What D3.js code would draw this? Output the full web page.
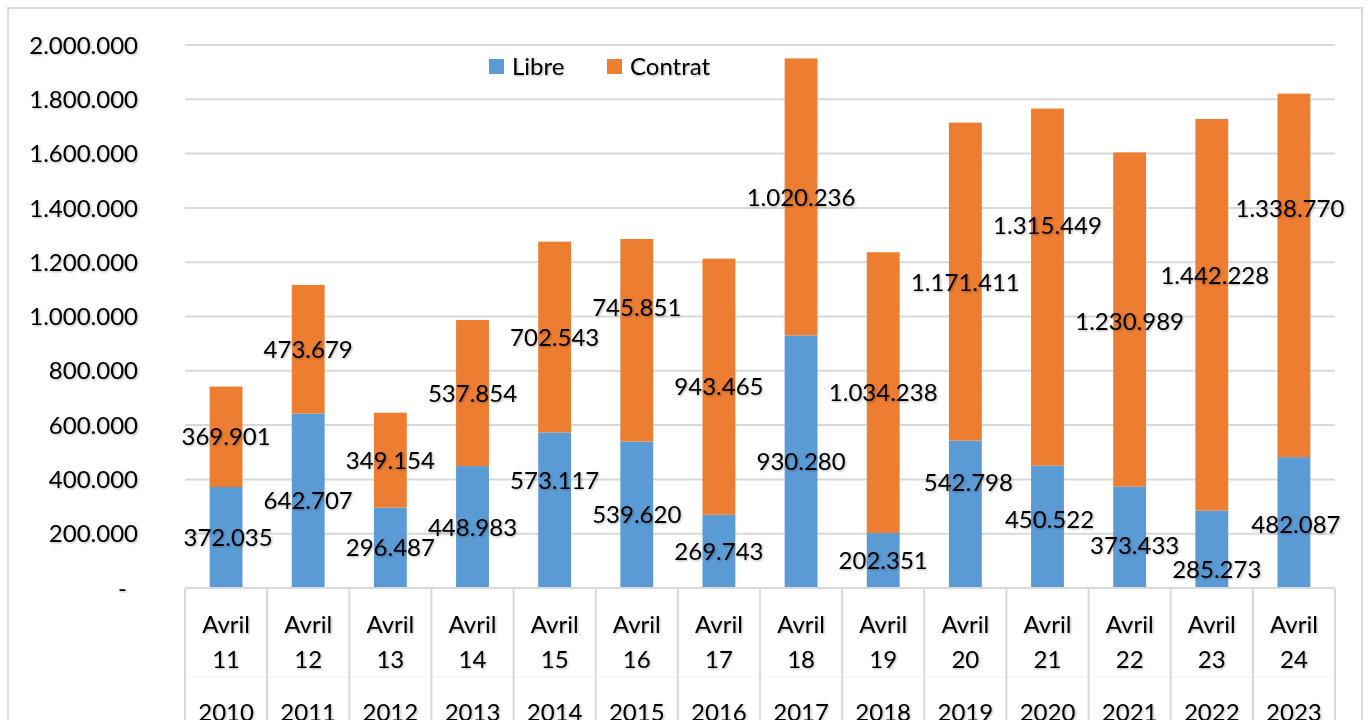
<!DOCTYPE html>
<html>
<head>
<meta charset="utf-8">
<script src="https://cdn.jsdelivr.net/npm/d3@7"></script>
<style>
  html, body { margin: 0; padding: 0; background: #fff; }
  svg { display: block; font-family: Lato, "Open Sans", sans-serif; }
</style>
</head>
<body>
<svg id="chart" width="1370" height="720"></svg>
<script>
const months = ["Avril", "Avril", "Avril", "Avril", "Avril", "Avril", "Avril", "Avril", "Avril", "Avril", "Avril", "Avril", "Avril", "Avril"];
const days = ["11", "12", "13", "14", "15", "16", "17", "18", "19", "20", "21", "22", "23", "24"];
const years = ["2010", "2011", "2012", "2013", "2014", "2015", "2016", "2017", "2018", "2019", "2020", "2021", "2022", "2023"];
const libre = [372035, 642707, 296487, 448983, 573117, 539620, 269743, 930280, 202351, 542798, 450522, 373433, 285273, 482087];
const contrat = [369901, 473679, 349154, 537854, 702543, 745851, 943465, 1020236, 1034238, 1171411, 1315449, 1230989, 1442228, 1338770];
const yTicks = [0, 200000, 400000, 600000, 800000, 1000000, 1200000, 1400000, 1600000, 1800000, 2000000];
const seriesNames = ["Libre", "Contrat"];
const seriesColors = ["#5b9bd5", "#ed7d31"];

// manual data-label nudges (pixels), as placed in the original chart
const labelNudgeY = {
  Libre:   [0, 0, 0, 0, -30, 0, 0, 0, 0, -32, -7, 8, 20, 2],
  Contrat: [0, 0, 0, 0, 0, -33, 0, 0, 0, 1, -62, 2, -39, -67]
};
const labelNudgeX = {
  Libre:   [2, 0, 0, 0, 0, 0, 0, 0, 0, 3, 2, 5, 5, 2],
  Contrat: [0, 0, 0, 0, 0, 0, 0, 0, 0, 0, 0, 0, 3, -4]
};

const svg = d3.select("#chart");
const defs = svg.append("defs");
const f = defs.append("filter").attr("id", "shadow").attr("x", "-10%").attr("y", "-20%").attr("width", "130%").attr("height", "150%");
f.append("feDropShadow").attr("dx", 1).attr("dy", 1).attr("stdDeviation", 0.8).attr("flood-color", "#000").attr("flood-opacity", 0.3);

// outer border
svg.append("rect").attr("x", 8).attr("y", 8).attr("width", 1354).attr("height", 730)
  .attr("fill", "none").attr("stroke", "#d9d9d9").attr("stroke-width", 2);

const pLeft = 185, pRight = 1335, pTop = 45, pBottom = 588;
const x = d3.scaleBand().domain(years).range([pLeft, pRight]).padding(0);
const y = d3.scaleLinear().domain([0, 2000000]).range([pBottom, pTop]);
const fmt = v => d3.format(",")(v).replace(/,/g, ".");

// gridlines
svg.append("g").selectAll("line").data(yTicks.filter(t => t > 0)).join("line")
  .attr("x1", pLeft).attr("x2", pRight).attr("y1", d => y(d)).attr("y2", d => y(d))
  .attr("stroke", "#d9d9d9").attr("stroke-width", 2);

// y tick labels
svg.append("g").attr("filter", "url(#shadow)").selectAll("text").data(yTicks).join("text")
  .attr("x", d => d === 0 ? 127 : 138).attr("y", d => y(d)).attr("dy", "0.36em")
  .attr("text-anchor", "end").attr("font-size", 24).attr("fill", "#000")
  .text(d => d === 0 ? "-" : fmt(d));

// stacked bars
const data = years.map((yr, i) => ({ key: yr, Libre: libre[i], Contrat: contrat[i] }));
const stack = d3.stack().keys(seriesNames)(data);
const bw = x.bandwidth() * 0.4;
const bars = svg.append("g");
stack.forEach((s, si) => {
  bars.append("g").selectAll("rect").data(s).join("rect")
    .attr("x", d => x(d.data.key) + (x.bandwidth() - bw) / 2)
    .attr("width", bw)
    .attr("y", d => y(d[1]))
    .attr("height", d => y(d[0]) - y(d[1]))
    .attr("fill", seriesColors[si]);
});

// category axis (table-like)
const axis = svg.append("g");
axis.append("line").attr("x1", pLeft).attr("x2", pRight).attr("y1", pBottom).attr("y2", pBottom)
  .attr("stroke", "#d9d9d9").attr("stroke-width", 2);
axis.append("line").attr("x1", pLeft).attr("x2", pRight).attr("y1", 677).attr("y2", 677)
  .attr("stroke", "#f3f3f3").attr("stroke-width", 1);
const bounds = years.map(k => x(k)).concat([pRight]);
axis.selectAll("line.v").data(bounds).join("line").attr("class", "v")
  .attr("x1", d => d).attr("x2", d => d).attr("y1", pBottom).attr("y2", 730)
  .attr("stroke", "#d9d9d9").attr("stroke-width", 2);

const labels = svg.append("g").attr("filter", "url(#shadow)").attr("font-size", 24).attr("fill", "#000").attr("text-anchor", "middle");
years.forEach((yr, i) => {
  const cx = x(yr) + x.bandwidth() / 2;
  labels.append("text").attr("x", cx).attr("y", 633).text(months[i]);
  labels.append("text").attr("x", cx).attr("y", 668).text(days[i]);
  labels.append("text").attr("x", cx).attr("y", 721).text(years[i]);
});

// data labels
const dl = svg.append("g").attr("filter", "url(#shadow)").attr("font-size", 24).attr("fill", "#000").attr("text-anchor", "middle");
stack.forEach(s => {
  const k = s.key;
  dl.append("g").selectAll("text").data(s).join("text")
    .attr("x", (d, i) => x(d.data.key) + x.bandwidth() / 2 + labelNudgeX[k][i])
    .attr("y", (d, i) => (y(d[0]) + y(d[1])) / 2 + labelNudgeY[k][i])
    .attr("dy", "0.36em")
    .text(d => fmt(d[1] - d[0]));
});

// legend
const legend = svg.append("g");
const legX = [489, 607];
seriesNames.forEach((n, i) => {
  legend.append("rect").attr("x", legX[i]).attr("y", 59).attr("width", 15).attr("height", 15).attr("fill", seriesColors[i]);
  legend.append("text").attr("x", legX[i] + 23).attr("y", 75).attr("font-size", 24).attr("fill", "#000")
    .attr("filter", "url(#shadow)").text(n);
});
</script>
</body>
</html>
